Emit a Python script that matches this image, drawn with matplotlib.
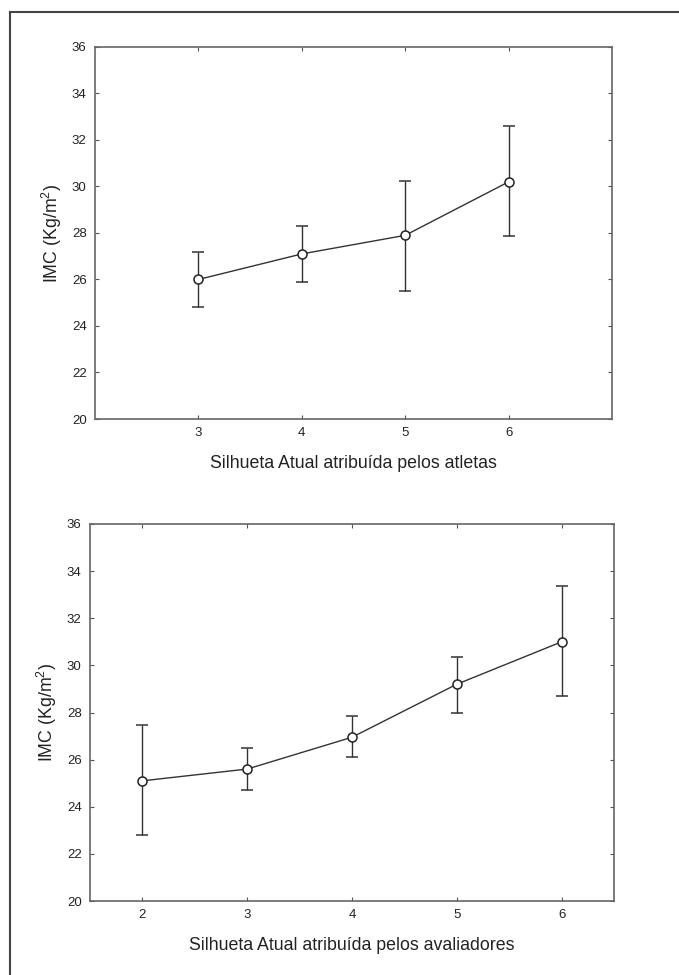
import matplotlib.pyplot as plt
from matplotlib.lines import Line2D

plt.rcParams['font.family'] = ['Liberation Sans', 'DejaVu Sans']
plt.rcParams['mathtext.fontset'] = 'custom'
plt.rcParams['mathtext.rm'] = 'Liberation Sans'

# Top chart: silhouette assigned by the athletes
x_atletas = [3, 4, 5, 6]
imc_atletas = [26.0, 27.1, 27.9, 30.2]
low_atletas = [24.8, 25.9, 25.5, 27.85]
high_atletas = [27.2, 28.3, 30.25, 32.6]

# Bottom chart: silhouette assigned by the evaluators
x_aval = [2, 3, 4, 5, 6]
imc_aval = [25.1, 25.6, 26.95, 29.2, 31.0]
low_aval = [22.8, 24.7, 26.1, 28.0, 28.7]
high_aval = [27.45, 26.5, 27.85, 30.35, 33.35]

y_ticks = [20, 22, 24, 26, 28, 30, 32, 34, 36]

fig = plt.figure(figsize=(6.79, 9.75), dpi=100)

# partial outer frame (top and left edges visible in the crop)
fig.add_artist(Line2D([10/679, 10/679], [0, 1 - 12/975], color="#444444", lw=1.5))
fig.add_artist(Line2D([10/679, 1], [1 - 12/975, 1 - 12/975], color="#444444", lw=1.5))


def draw_panel(ax, x, y, lo, hi, xlim, xlabel):
    yerr = [[m - l for m, l in zip(y, lo)], [h - m for m, h in zip(y, hi)]]
    ax.errorbar(x, y, yerr=yerr, color="#333333", lw=1.0, elinewidth=1.0,
                capsize=4.3, capthick=1.0, marker="o", markersize=6.5,
                markerfacecolor="white", markeredgecolor="#222222",
                markeredgewidth=1.1)
    ax.set_xlim(*xlim)
    ax.set_ylim(20, 36)
    ax.set_xticks(x)
    ax.set_yticks(y_ticks)
    ax.tick_params(direction="in", length=3, width=0.8, color="#555555",
                   top=True, right=True, labelsize=9.5, labelcolor="#222222", pad=6)
    for s in ax.spines.values():
        s.set_color("#666666")
        s.set_linewidth(1.2)
    ax.set_xlabel(xlabel, fontsize=12.8, color="#222222", labelpad=11)
    ax.set_ylabel("IMC (Kg/m$^2$)", fontsize=12.8, color="#222222", labelpad=6)


ax1 = fig.add_axes([95/679, 1 - 419/975, 517/679, 372/975])
draw_panel(ax1, x_atletas, imc_atletas, low_atletas, high_atletas, (2, 7),
           "Silhueta Atual atribuída pelos atletas")

ax2 = fig.add_axes([90/679, 1 - 901/975, 524/679, 377/975])
draw_panel(ax2, x_aval, imc_aval, low_aval, high_aval, (1.5, 6.5),
           "Silhueta Atual atribuída pelos avaliadores")

fig.savefig("out.png", dpi=100)
